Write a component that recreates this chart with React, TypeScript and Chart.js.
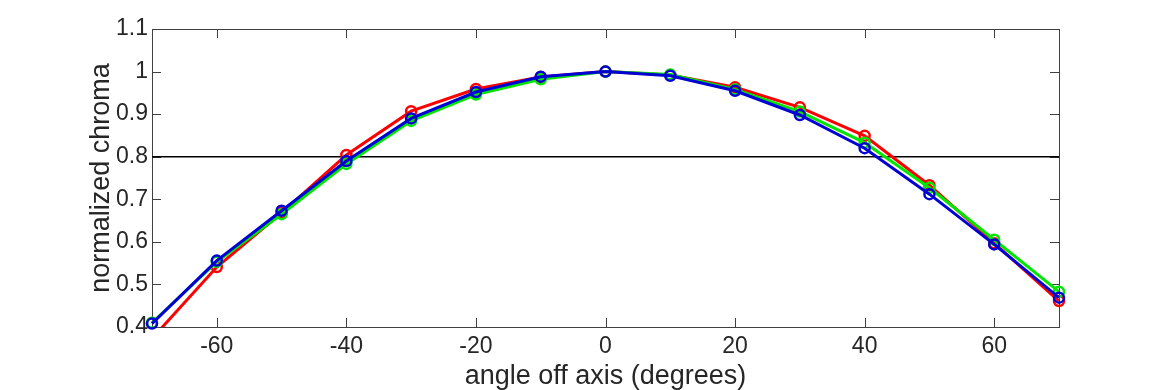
import React, { useEffect, useRef } from "react";
import { Chart, registerables } from "chart.js";

Chart.register(...registerables);

const angles = [-70, -60, -50, -40, -30, -20, -10, 0, 10, 20, 30, 40, 50, 60, 70];
const redValues = [0.373, 0.541, 0.668, 0.804, 0.907, 0.959, 0.987, 1.0, 0.992, 0.963, 0.916, 0.849, 0.733, 0.597, 0.461];
const greenValues = [0.41, 0.553, 0.665, 0.783, 0.884, 0.946, 0.982, 1.0, 0.993, 0.958, 0.906, 0.833, 0.727, 0.605, 0.483];
const blueValues = [0.408, 0.556, 0.673, 0.79, 0.89, 0.952, 0.988, 1.0, 0.99, 0.955, 0.898, 0.82, 0.712, 0.594, 0.469];
const thresholdX = [-70, 70];
const thresholdY = [0.8, 0.8];
const xTicks = [-60, -40, -20, 0, 20, 40, 60];
const yTicks = [0.4, 0.5, 0.6, 0.7, 0.8, 0.9, 1.0, 1.1];

const TEXT = "#262626";
const FONT = "'Liberation Sans', Arial, sans-serif";

const toPoints = (ys: number[]) => angles.map((x, i) => ({ x, y: ys[i] }));

const boxPlugin = {
  id: "boxTicks",
  beforeDatasetsDraw(chart: any) {
    const { ctx, chartArea: a, scales } = chart;
    const xs = scales.x;
    const ys = scales.y;
    const tl = 9;
    ctx.save();
    ctx.strokeStyle = "#404040";
    ctx.lineWidth = 1;
    ctx.strokeRect(Math.round(a.left) + 0.5, Math.round(a.top) + 0.5, Math.round(a.right - a.left), Math.round(a.bottom - a.top));
    ctx.beginPath();
    xTicks.forEach((v) => {
      const px = Math.round(xs.getPixelForValue(v)) + 0.5;
      ctx.moveTo(px, a.bottom);
      ctx.lineTo(px, a.bottom - tl);
      ctx.moveTo(px, a.top);
      ctx.lineTo(px, a.top + tl);
    });
    yTicks.forEach((v) => {
      const py = Math.round(ys.getPixelForValue(v)) + 0.5;
      ctx.moveTo(a.left, py);
      ctx.lineTo(a.left + tl, py);
      ctx.moveTo(a.right, py);
      ctx.lineTo(a.right - tl, py);
    });
    ctx.stroke();
    ctx.restore();
  },
};

const series = (label: string, color: string, ys: number[], clip: any) => ({
  label,
  data: toPoints(ys),
  borderColor: color,
  backgroundColor: color,
  borderWidth: 3,
  pointRadius: 5,
  pointBorderWidth: 2.5,
  pointBackgroundColor: "rgba(0,0,0,0)",
  pointBorderColor: color,
  tension: 0,
  clip,
});

export default function App() {
  const ref = useRef<HTMLCanvasElement>(null);
  useEffect(() => {
    document.body.style.margin = "0";
    const canvas = ref.current;
    if (!canvas) return;
    const chart = new Chart(canvas, {
      type: "line",
      data: {
        datasets: [
          series("blue", "#0000d4", blueValues, 8),
          series("green", "#00e600", greenValues, 8),
          series("red", "#ff0000", redValues, { left: 8, right: 8, top: 8, bottom: 0 }),
          {
            label: "threshold",
            data: thresholdX.map((x, i) => ({ x, y: thresholdY[i] })),
            borderColor: "#000000",
            borderWidth: 1.5,
            pointRadius: 0,
            clip: 0,
          } as any,
        ],
      },
      options: {
        animation: false,
        responsive: false,
        maintainAspectRatio: false,
        layout: { padding: { left: 0, right: 111, top: 29, bottom: 0 } },
        plugins: { legend: { display: false }, tooltip: { enabled: false } },
        scales: {
          x: {
            type: "linear",
            min: -70,
            max: 70,
            afterFit: (s: any) => {
              s.height = 63;
            },
            afterBuildTicks: (s: any) => {
              s.ticks = xTicks.map((v) => ({ value: v }));
            },
            grid: { display: false, drawTicks: false },
            border: { display: false },
            ticks: {
              color: TEXT,
              font: { family: FONT, size: 23 },
              padding: 6,
              maxRotation: 0,
              autoSkip: false,
            },
            title: {
              display: true,
              text: "angle off axis (degrees)",
              color: TEXT,
              font: { family: FONT, size: 27 },
              padding: { top: 0, bottom: -3 },
            },
          },
          y: {
            type: "linear",
            min: 0.4,
            max: 1.1,
            afterFit: (s: any) => {
              s.width = 152;
            },
            afterBuildTicks: (s: any) => {
              s.ticks = yTicks.map((v) => ({ value: v }));
            },
            grid: { display: false, drawTicks: false },
            border: { display: false },
            ticks: {
              color: TEXT,
              font: { family: FONT, size: 23 },
              padding: 4,
              autoSkip: false,
              callback: (v: any) => String(Math.round(Number(v) * 10) / 10),
            },
            title: {
              display: true,
              text: "normalized chroma",
              color: TEXT,
              font: { family: FONT, size: 27 },
              padding: { top: 85, bottom: 0 },
            },
          },
        },
      },
      plugins: [boxPlugin],
    });
    return () => chart.destroy();
  }, []);
  return (
    <div style={{ width: 1170, height: 390, background: "#fff" }}>
      <canvas ref={ref} width={1170} height={390} style={{ display: "block", width: 1170, height: 390 }} />
    </div>
  );
}
